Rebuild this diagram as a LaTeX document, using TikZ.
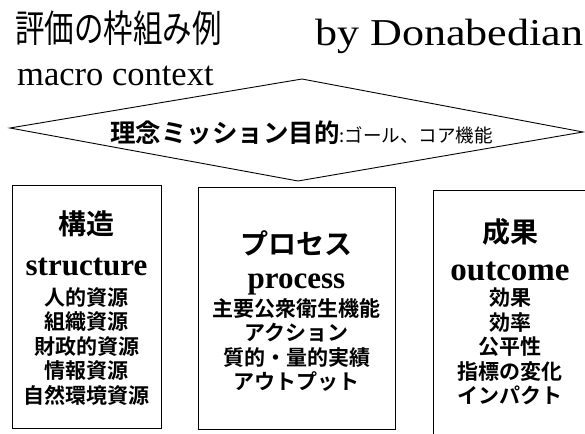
\documentclass[tikz,border=0pt]{standalone}
\usepackage{fontspec}
\setmainfont{Liberation Serif}
\newfontfamily\jp{Noto Sans CJK JP}[BoldFont={Noto Sans CJK JP Bold}]
\tikzset{
  frame/.style={draw=black, line width=1pt, rectangle, inner sep=0pt},
  jplist/.style={inner sep=0pt, align=center, font=\jp\bfseries\fontsize{21}{24.5}\selectfont},
  jphead/.style={inner sep=0pt, font=\jp\bfseries\fontsize{28}{28}\selectfont},
  enhead/.style={inner sep=0pt, anchor=base, font=\bfseries\fontsize{31}{31}\selectfont},
}
\begin{document}
\begin{tikzpicture}[x=1pt,y=-1pt]
\useasboundingbox (0,0) rectangle (585,433);
\clip (0,0) rectangle (585,433);
% title
\node[anchor=west, inner sep=0pt] (title) at (15,28)
  {\scalebox{1}[1.28]{\jp\fontsize{29.5}{29.5}\selectfont 評価の枠組み例}};
\node[anchor=base west, inner sep=0pt] (by) at (315,46)
  {\scalebox{1.16}[1]{\fontsize{38}{38}\selectfont by Donabedian}};
\node[anchor=base west, inner sep=0pt] (macro) at (17,86)
  {\fontsize{34.5}{34.5}\selectfont macro context};
% diamond
\coordinate (dl) at (10,128);
\coordinate (dt) at (302,79);
\coordinate (dr) at (583,132);
\coordinate (db) at (298,181);
\draw[line width=0.9pt] (dl) -- (dt) -- (dr) -- (db) -- cycle;
\node[anchor=base west, inner sep=0pt] (mission) at (110,142)
  {\jp{\bfseries\fontsize{25.5}{25.5}\selectfont 理念ミッション目的}{\fontsize{18.5}{18.5}\selectfont :ゴール、コア機能}};
% boxes
\node[frame, minimum width=149pt, minimum height=243pt, anchor=north west] (b1) at (12,185) {};
\node[frame, minimum width=197pt, minimum height=242pt, anchor=north west] (b2) at (198,187) {};
\node[frame, minimum width=160pt, minimum height=260pt, anchor=north west] (b3) at (433,190) {};
% box 1
\node[jphead] (h1) at (86.5,224) {構造};
\node[enhead] (e1) at (86.5,275) {structure};
\node[jplist, anchor=north] (l1) at (86.5,287) {人的資源\\組織資源\\財政的資源\\情報資源\\自然環境資源};
% box 2
\node[jphead] (h2) at (296.5,243) {プロセス};
\node[enhead] (e2) at (296.5,288) {process};
\node[jplist, anchor=north] (l2) at (296.5,298) {主要公衆衛生機能\\アクション\\質的・量的実績\\アウトプット};
% box 3
\node[jphead] (h3) at (510,232) {成果};
\node[enhead, font=\bfseries\fontsize{33}{33}\selectfont] (e3) at (510,280) {outcome};
\node[jplist, anchor=north] (l3) at (510,288) {効果\\効率\\公平性\\指標の変化\\インパクト};
\end{tikzpicture}
\end{document}
